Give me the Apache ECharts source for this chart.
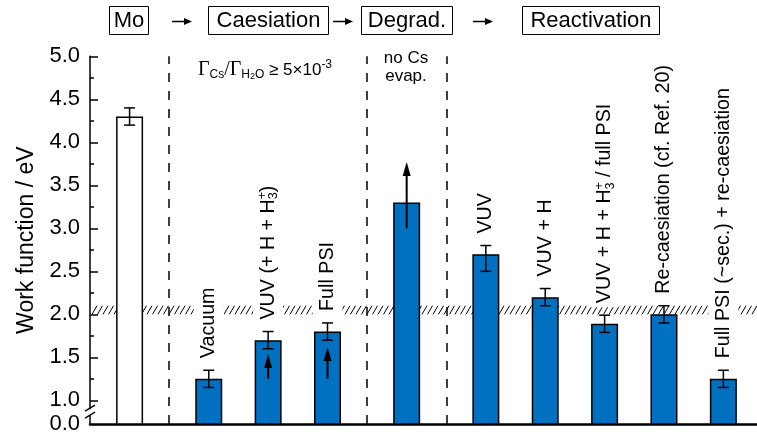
<!DOCTYPE html>
<html>
<head>
<meta charset="utf-8">
<script src="https://cdn.jsdelivr.net/npm/echarts@6/dist/echarts.min.js"></script>
<style>
  html, body { margin: 0; padding: 0; background: #fff; }
  #chart { width: 757px; height: 434px; }
</style>
</head>
<body>
<div id="chart"></div>
<script>
// ---- data ----
const categories = [
  'Mo', 'Vacuum', 'VUV (+ H + H3+)', 'Full PSI', 'Degraded', 'VUV', 'VUV + H',
  'VUV + H + H3+ / full PSI', 'Re-caesiation (cf. Ref. 20)', 'Full PSI (~sec.) + re-caesiation'
];
const phases = ['Mo', 'Caesiation', 'Caesiation', 'Caesiation', 'Degrad.',
  'Reactivation', 'Reactivation', 'Reactivation', 'Reactivation', 'Reactivation'];
const workFunction = [4.3, 1.25, 1.7, 1.8, 3.3, 2.7, 2.2, 1.89, 2.0, 1.25];
const errorUp = [0.1, 0.1, 0.1, 0.1, null, 0.1, 0.1, 0.1, 0.1, 0.1];
const errorDown = [0.1, 0.1, 0.1, 0.1, null, 0.2, 0.1, 0.1, 0.1, 0.1];
const arrowFrom = [null, null, 1.25, 1.25, 3.0, null, null, null, null, null];
const arrowTo = [null, null, 1.54, 1.62, 3.77, null, null, null, null, null];
const barLabels = [
  '', 'Vacuum', 'VUV (+ H + H{sup|+}{sub|3})', 'Full PSI', '', 'VUV', 'VUV + H',
  'VUV + H + H{sup|+}{sub|3} / full PSI', 'Re-caesiation (cf. Ref. 20)', 'Full PSI (~sec.) + re-caesiation'
];
const csBand = [2.0, 2.1];              // work function range of bulk Cs
const yTicks = [1.0, 1.5, 2.0, 2.5, 3.0, 3.5, 4.0, 4.5, 5.0];
const yMinorTicks = [1.25, 1.75, 2.25, 2.75, 3.25, 3.75, 4.25, 4.75];
const axisFloor = 0.725;                // value shown as "0.0" below the axis break

// ---- layout helpers ----
const FONT = '"Liberation Sans", Arial, sans-serif';
const SERIF = '"Liberation Serif", "Times New Roman", serif';
const BLUE = '#0070c0';

// slot positions on the x axis: 3 slots between bars, 4 across a phase change
const slots = [];
const separators = [];
phases.forEach((p, i) => {
  if (i === 0) { slots.push(2); return; }
  const change = p !== phases[i - 1];
  slots.push(slots[i - 1] + (change ? 4 : 3));
  if (change) separators.push((slots[i - 1] + slots[i]) / 2);
});

const barData = workFunction.map((v, i) => ({
  value: [slots[i], v],
  itemStyle: { color: phases[i] === 'Mo' ? '#ffffff' : BLUE }
}));
const errData = [];
workFunction.forEach((v, i) => {
  if (errorUp[i] != null) errData.push([slots[i], v - errorDown[i], v + errorUp[i]]);
});
const arrowData = [];
arrowFrom.forEach((f, i) => { if (f != null) arrowData.push([slots[i], f, arrowTo[i]]); });
const labelData = [];
barLabels.forEach((t, i) => {
  if (t) labelData.push([slots[i], workFunction[i] + (errorUp[i] || 0), i]);
});

const subRich = {
  sup: { fontSize: 12.5, fontFamily: FONT, fill: '#000', lineHeight: 12, verticalAlign: 'top', width: 0 },
  sub: { fontSize: 12.5, fontFamily: FONT, fill: '#000', lineHeight: 12, verticalAlign: 'bottom' }
};

function renderHatch(params, api) {
  const cs = params.coordSys;
  const yLo = api.coord([0, api.value(0)])[1];
  const yHi = api.coord([0, api.value(1)])[1];
  const children = [];
  for (let x = cs.x + 2; x + 5 <= cs.x + cs.width; x += 5.5) {
    children.push({ type: 'line', shape: { x1: x, y1: yLo, x2: x + 5, y2: yHi },
      style: { stroke: '#000', lineWidth: 1 } });
  }
  return { type: 'group', children };
}

function renderErrorBar(params, api) {
  const lo = api.coord([api.value(0), api.value(1)]);
  const hi = api.coord([api.value(0), api.value(2)]);
  const st = { stroke: '#000', lineWidth: 1.5 };
  const h = 5.5;
  return { type: 'group', children: [
    { type: 'line', shape: { x1: lo[0], y1: lo[1], x2: hi[0], y2: hi[1] }, style: st },
    { type: 'line', shape: { x1: lo[0] - h, y1: lo[1], x2: lo[0] + h, y2: lo[1] }, style: st },
    { type: 'line', shape: { x1: hi[0] - h, y1: hi[1], x2: hi[0] + h, y2: hi[1] }, style: st }
  ] };
}

function renderArrow(params, api) {
  const from = api.coord([api.value(0), api.value(1)]);
  const tip = api.coord([api.value(0), api.value(2)]);
  const len = 14, half = 4;
  return { type: 'group', children: [
    { type: 'line', shape: { x1: from[0], y1: from[1], x2: tip[0], y2: tip[1] + len - 2 },
      style: { stroke: '#000', lineWidth: 2 } },
    { type: 'polygon', shape: { points: [[tip[0], tip[1]], [tip[0] - half, tip[1] + len], [tip[0] + half, tip[1] + len]] },
      style: { fill: '#000' } }
  ] };
}

function renderLabel(params, api) {
  const p = api.coord([api.value(0), api.value(1)]);
  const text = barLabels[api.value(2)];
  return {
    type: 'text', x: p[0], y: p[1] - 8, rotation: Math.PI / 2,
    style: {
      text, fill: '#000', fontSize: 19.7, fontFamily: FONT, lineHeight: 24,
      align: 'left', verticalAlign: 'middle',
      backgroundColor: '#fff', padding: [3, 2, 3, 4], rich: subRich
    }
  };
}

// header: phase boxes and arrows
function box(id, text, x0, x1) {
  return [
    { id: id + '-r', type: 'rect', shape: { x: x0, y: 6.5, width: x1 - x0, height: 28 },
      style: { fill: '#fff', stroke: '#000', lineWidth: 1 } },
    { id: id + '-t', type: 'text', x: (x0 + x1) / 2, y: 21,
      style: { text, fill: '#000', fontSize: 22, fontFamily: FONT, align: 'center', verticalAlign: 'middle' } }
  ];
}
function arrow(id, x0, x1, y) {
  return [
    { id: id + '-l', type: 'line', shape: { x1: x0, y1: y, x2: x1 - 6, y2: y }, style: { stroke: '#000', lineWidth: 1.5 } },
    { id: id + '-h', type: 'polygon', shape: { points: [[x1, y], [x1 - 8, y - 3.5], [x1 - 8, y + 3.5]] }, style: { fill: '#000' } }
  ];
}

const graphics = [].concat(
  box('mo', 'Mo', 109.5, 148.5),
  arrow('a1', 172, 192, 21.5),
  box('cs', 'Caesiation', 208.5, 328.5),
  arrow('a2', 333, 353, 21.5),
  box('dg', 'Degrad.', 361.5, 452.5),
  arrow('a3', 473, 493, 21.5),
  box('re', 'Reactivation', 522.5, 659.5),
  [{
    id: 'flux', type: 'text', x: 265, y: 70,
    style: {
      text: '{g|Γ}{s|Cs}{g|/Γ}{s|H}{ss|2}{s|O}{n| ≥ 5×10}{p|-3}',
      align: 'center', verticalAlign: 'middle', fill: '#000', lineHeight: 22,
      rich: {
        g: { fontFamily: SERIF, fontSize: 20, fill: '#000', lineHeight: 22 },
        n: { fontFamily: FONT, fontSize: 17, fill: '#000', lineHeight: 22 },
        s: { fontFamily: FONT, fontSize: 12, fill: '#000', lineHeight: 12, verticalAlign: 'bottom' },
        ss: { fontFamily: FONT, fontSize: 9, fill: '#000', lineHeight: 8, verticalAlign: 'bottom' },
        p: { fontFamily: FONT, fontSize: 12, fill: '#000', lineHeight: 13, verticalAlign: 'top' }
      }
    }
  }, {
    id: 'nocs', type: 'text', x: 406, y: 67,
    style: { text: 'no Cs\nevap.', fill: '#000', fontSize: 17, fontFamily: FONT, lineHeight: 18,
      align: 'center', verticalAlign: 'middle' }
  }]
);

const chart = echarts.init(document.getElementById('chart'), null, { renderer: 'canvas', width: 757, height: 434 });

const option = {
  animation: false,
  backgroundColor: '#fff',
  textStyle: { fontFamily: FONT },
  grid: { left: 90, right: 0, top: 56.3, bottom: 10, containLabel: false, outerBoundsMode: 'none' },
  xAxis: {
    type: 'value', min: 0, max: 33.7,
    axisLine: { show: true, onZero: false, lineStyle: { color: '#000', width: 2.5 } },
    axisTick: { show: false }, axisLabel: { show: false }, splitLine: { show: false }
  },
  yAxis: [{
    type: 'value', min: axisFloor, max: 5, position: 'left',
    name: 'Work function / eV', nameLocation: 'middle', nameGap: 50, nameRotate: 90,
    nameTextStyle: { fontSize: 23, color: '#000', fontFamily: FONT },
    axisLine: { show: true, onZero: false, lineStyle: { color: '#000', width: 1.5 } },
    axisTick: { show: true, inside: true, length: 8, customValues: yTicks, lineStyle: { color: '#000', width: 1.5 } },
    axisLabel: {
      show: true, customValues: [axisFloor].concat(yTicks), margin: 10,
      fontSize: 22, color: '#000', fontFamily: FONT,
      formatter: v => (v < 1 ? '0.0' : Number(v).toFixed(1))
    },
    splitLine: { show: false }
  }, {
    type: 'value', min: axisFloor, max: 5, position: 'left',
    axisLine: { show: false },
    axisTick: { show: true, inside: true, length: 4, customValues: yMinorTicks, lineStyle: { color: '#000', width: 1.5 } },
    axisLabel: { show: false }, splitLine: { show: false }
  }],
  graphic: graphics,
  series: [{
    type: 'custom', name: 'Cs band', z: 1, silent: true,
    renderItem: renderHatch, data: [csBand], encode: { x: [], y: [0, 1] }
  }, {
    type: 'bar', name: 'Work function', z: 2, barWidth: 27, silent: true,
    itemStyle: { borderColor: '#000', borderWidth: 1.5 },
    data: barData,
    markLine: {
      symbol: ['none', 'none'], silent: true, animation: false,
      label: { show: false },
      lineStyle: { color: '#000', type: [9, 9], width: 1.5 },
      emphasis: { disabled: true },
      data: separators.map(v => ({ xAxis: v }))
    }
  }, {
    type: 'custom', name: 'Labels', z: 3, silent: true,
    renderItem: renderLabel, data: labelData, encode: { x: 0, y: 1 }
  }, {
    type: 'custom', name: 'Error', z: 4, silent: true,
    renderItem: renderErrorBar, data: errData, encode: { x: 0, y: [1, 2] }
  }, {
    type: 'custom', name: 'Arrows', z: 4, silent: true,
    renderItem: renderArrow, data: arrowData, encode: { x: 0, y: [1, 2] }
  }]
};

chart.setOption(option);

// axis break marks between 0.0 and 1.0
const axisX = chart.convertToPixel({ xAxisIndex: 0 }, 0);
const by = chart.convertToPixel({ yAxisIndex: 0 }, (1 + axisFloor) / 2);
chart.setOption({
  graphic: [
    { id: 'brk-gap', type: 'rect', z: 100, shape: { x: axisX - 4, y: by - 3, width: 8, height: 6 }, style: { fill: '#fff' } },
    { id: 'brk-1', type: 'line', z: 101, shape: { x1: axisX - 5, y1: by - 1, x2: axisX + 5, y2: by - 7 }, style: { stroke: '#000', lineWidth: 1.3 } },
    { id: 'brk-2', type: 'line', z: 101, shape: { x1: axisX - 5, y1: by + 6, x2: axisX + 5, y2: by } , style: { stroke: '#000', lineWidth: 1.3 } }
  ]
});
</script>
</body>
</html>
